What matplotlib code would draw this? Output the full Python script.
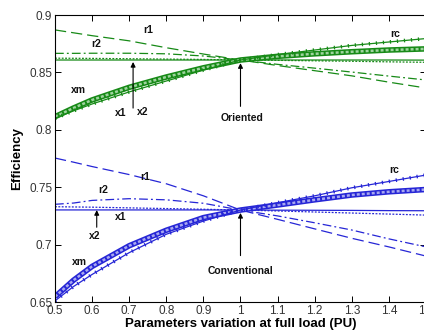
import matplotlib
matplotlib.use("Agg")
import matplotlib.pyplot as plt

plt.rcParams['font.family'] = ['Liberation Sans', 'DejaVu Sans']

x = [0.5, 0.55, 0.6, 0.7, 0.8, 0.9, 1.0, 1.1, 1.2, 1.3, 1.4, 1.5]

# Oriented (green)
g_x1 = [0.8608, 0.8608, 0.8608, 0.8608, 0.8608, 0.8608, 0.8608, 0.8608, 0.8608, 0.8608, 0.8608, 0.8607]
g_x2 = [0.8624, 0.8623, 0.8622, 0.8619, 0.8616, 0.8613, 0.8609, 0.8605, 0.8601, 0.8597, 0.8592, 0.8588]
g_r1 = [0.8870, 0.8845, 0.8820, 0.8775, 0.8715, 0.8660, 0.8608, 0.8560, 0.8515, 0.8470, 0.8415, 0.8364]
g_r2 = [0.8666, 0.8666, 0.8667, 0.8667, 0.8662, 0.8643, 0.8608, 0.8570, 0.8537, 0.8503, 0.8468, 0.8434]
g_xm = [0.8114, 0.8190, 0.8260, 0.8370, 0.8460, 0.8540, 0.8608, 0.8640, 0.8662, 0.8680, 0.8695, 0.8705]
g_rc = [0.8100, 0.8165, 0.8225, 0.8330, 0.8425, 0.8520, 0.8608, 0.8655, 0.8695, 0.8735, 0.8765, 0.8795]

# Conventional (blue)
b_x1 = [0.7302, 0.7302, 0.7302, 0.7302, 0.7302, 0.7302, 0.7301, 0.7300, 0.7299, 0.7298, 0.7296, 0.7295]
b_x2 = [0.7330, 0.7328, 0.7326, 0.7320, 0.7314, 0.7308, 0.7301, 0.7293, 0.7284, 0.7275, 0.7266, 0.7257]
b_r1 = [0.7754, 0.7718, 0.7680, 0.7610, 0.7530, 0.7425, 0.7301, 0.7220, 0.7137, 0.7055, 0.6980, 0.6900]
b_r2 = [0.7351, 0.7362, 0.7385, 0.7400, 0.7390, 0.7360, 0.7301, 0.7250, 0.7190, 0.7127, 0.7050, 0.6980]
b_xm = [0.6546, 0.6690, 0.6810, 0.6990, 0.7125, 0.7235, 0.7301, 0.7345, 0.7390, 0.7432, 0.7460, 0.7480]
b_rc = [0.6510, 0.6635, 0.6740, 0.6930, 0.7090, 0.7205, 0.7301, 0.7365, 0.7425, 0.7495, 0.7550, 0.7606]

xticks = [0.5, 0.6, 0.7, 0.8, 0.9, 1.0, 1.1, 1.2, 1.3, 1.4, 1.5]
xticklabels = ['0.5', '0.6', '0.7', '0.8', '0.9', '1', '1.1', '1.2', '1.3', '1.4', '1.5']
yticks = [0.65, 0.7, 0.75, 0.8, 0.85, 0.9]
yticklabels = ['0.65', '0.7', '0.75', '0.8', '0.85', '0.9']

GREEN = '#178a17'
GREEN_L = '#9fd49f'
BLUE = '#2626d6'
BLUE_L = '#a8a8f0'

fig = plt.figure(figsize=(4.24, 3.35), dpi=100)
ax = fig.add_axes([0.1297, 0.0985, 0.875, 0.8567])


def draw_set(c, cl, sx1, sx2, sr1, sr2, sxm, src):
    ax.plot(x, sx1, '-', color=c, lw=0.9)
    ax.plot(x, sx2, color=c, lw=0.9, linestyle=(0, (1.5, 1.2)))
    ax.plot(x, sr1, color=c, lw=0.9, linestyle=(0, (9, 4)))
    ax.plot(x, sr2, color=c, lw=0.9, linestyle=(0, (7, 2.5, 1.5, 2.5)))
    # xm: circle-marker band
    ax.plot(x, sxm, '-', color=c, lw=4.0, solid_capstyle='butt')
    ax.plot(x, sxm, color=cl, lw=1.8, linestyle=(0, (1.2, 0.8)))
    # rc: plus-marker line
    ax.plot(x, src, '-', color=c, lw=0.9)
    ax.plot(x, src, color=c, lw=2.6, linestyle=(0, (0.35, 1.6)), dash_capstyle='butt')


draw_set(GREEN, GREEN_L, g_x1, g_x2, g_r1, g_r2, g_xm, g_rc)
draw_set(BLUE, BLUE_L, b_x1, b_x2, b_r1, b_r2, b_xm, b_rc)

ax.set_xlim(0.5, 1.5)
ax.set_ylim(0.65, 0.9)
ax.set_xticks(xticks)
ax.set_xticklabels(xticklabels)
ax.set_yticks(yticks)
ax.set_yticklabels(yticklabels)
ax.tick_params(direction='in', top=True, right=True, length=4, width=0.7,
               labelsize=8.5, labelcolor='#333333', pad=2)
for s in ax.spines.values():
    s.set_linewidth(0.8)

ax.set_ylabel('Efficiency', fontsize=9.5, fontweight='bold', labelpad=4)
ax.set_xlabel('Parameters variation at full load (PU)', fontsize=9.5,
              fontweight='bold', labelpad=1)

tk = dict(fontsize=7.5, fontweight='bold', ha='center', va='center', color='#111111')
# green labels
ax.text(0.751, 0.887, 'r1', **tk)
ax.text(0.611, 0.8747, 'r2', **tk)
ax.text(0.562, 0.8347, 'xm', **tk)
ax.text(0.676, 0.8146, 'x1', **tk)
ax.text(0.737, 0.8156, 'x2', **tk)
ax.text(1.005, 0.8105, 'Oriented', **tk)
ax.text(1.417, 0.8834, 'rc', **tk)
# blue labels
ax.text(0.743, 0.7592, 'r1', **tk)
ax.text(0.630, 0.7476, 'r2', **tk)
ax.text(0.678, 0.7243, 'x1', **tk)
ax.text(0.608, 0.7075, 'x2', **tk)
ax.text(0.567, 0.6851, 'xm', **tk)
ax.text(1.0, 0.677, 'Conventional', **tk)
ax.text(1.415, 0.765, 'rc', **tk)

ap = dict(arrowstyle='-|>', color='black', lw=0.8, mutation_scale=7)
ax.annotate('', xy=(0.7105, 0.8615), xytext=(0.7105, 0.8165), arrowprops=ap)
ax.annotate('', xy=(1.0, 0.8605), xytext=(1.0, 0.8180), arrowprops=ap)
ax.annotate('', xy=(0.6125, 0.7325), xytext=(0.6125, 0.7127), arrowprops=ap)
ax.annotate('', xy=(1.0, 0.7300), xytext=(1.0, 0.6880), arrowprops=ap)

fig.savefig('out.png', dpi=100)
